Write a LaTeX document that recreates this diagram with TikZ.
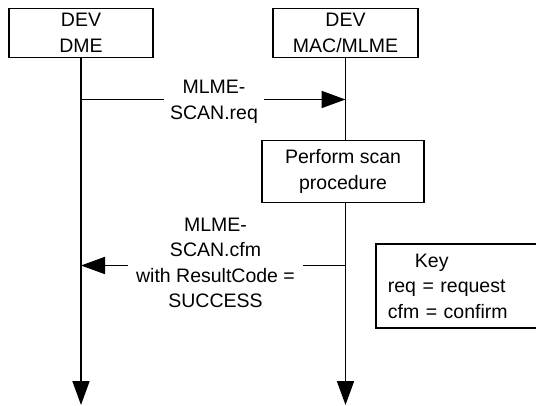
\documentclass[tikz,border=0pt]{standalone}
\usepackage{fontspec}
\setmainfont{Liberation Sans}
\usetikzlibrary{arrows.meta}
\begin{document}
\begin{tikzpicture}[x=1pt,y=-1pt,
  every node/.style={font=\fontsize{19.5}{25.5}\selectfont},
  box/.style={draw,line width=1.8pt,align=center,inner sep=0pt},
  line/.style={line width=1.8pt},
  arr/.style={line width=1.8pt,-{Triangle[length=24pt,width=17pt]}},
  lbl/.style={fill=white,align=center,inner sep=0pt}]
\useasboundingbox (0,0) rectangle (536,406);
\node[box,minimum width=144.5pt,minimum height=49pt] (dme) at (81,33) {DEV\\DME};
\node[box,minimum width=144.5pt,minimum height=49pt] (mac) at (345.5,33) {DEV\\MAC/MLME};
\node[box,minimum width=162.5pt,minimum height=62pt] (perf) at (343,171.5) {Perform scan\\procedure};
\node[draw,line width=1.8pt,anchor=north west,minimum width=185pt,minimum height=84pt,
      align=left,text width=161pt,inner xsep=12pt,inner ysep=0pt] (key) at (375,243)
      {\hspace*{27pt}Key\\req = request\\cfm = confirm};
\coordinate (dend) at (81,405);
\coordinate (mend) at (345.5,405);
\draw[arr] (dme.south -| dend) -- (dend);
\draw[line] (mac.south) -- (perf.north -| mac.south);
\draw[arr] (perf.south -| mend) -- (mend);
\coordinate (reqs) at (81,99.5);
\coordinate (reqe) at (345.5,99.5);
\draw[arr] (reqs) -- (reqe);
\node[lbl,minimum width=100pt] (reqlbl) at (214,102) {MLME-\\SCAN.req};
\coordinate (cfms) at (345.5,265.5);
\coordinate (cfme) at (81,265.5);
\draw[arr] (cfms) -- (cfme);
\node[lbl,minimum width=175pt] (cfmlbl) at (215.5,263) {MLME-\\SCAN.cfm\\with ResultCode =\\SUCCESS};
\end{tikzpicture}
\end{document}
